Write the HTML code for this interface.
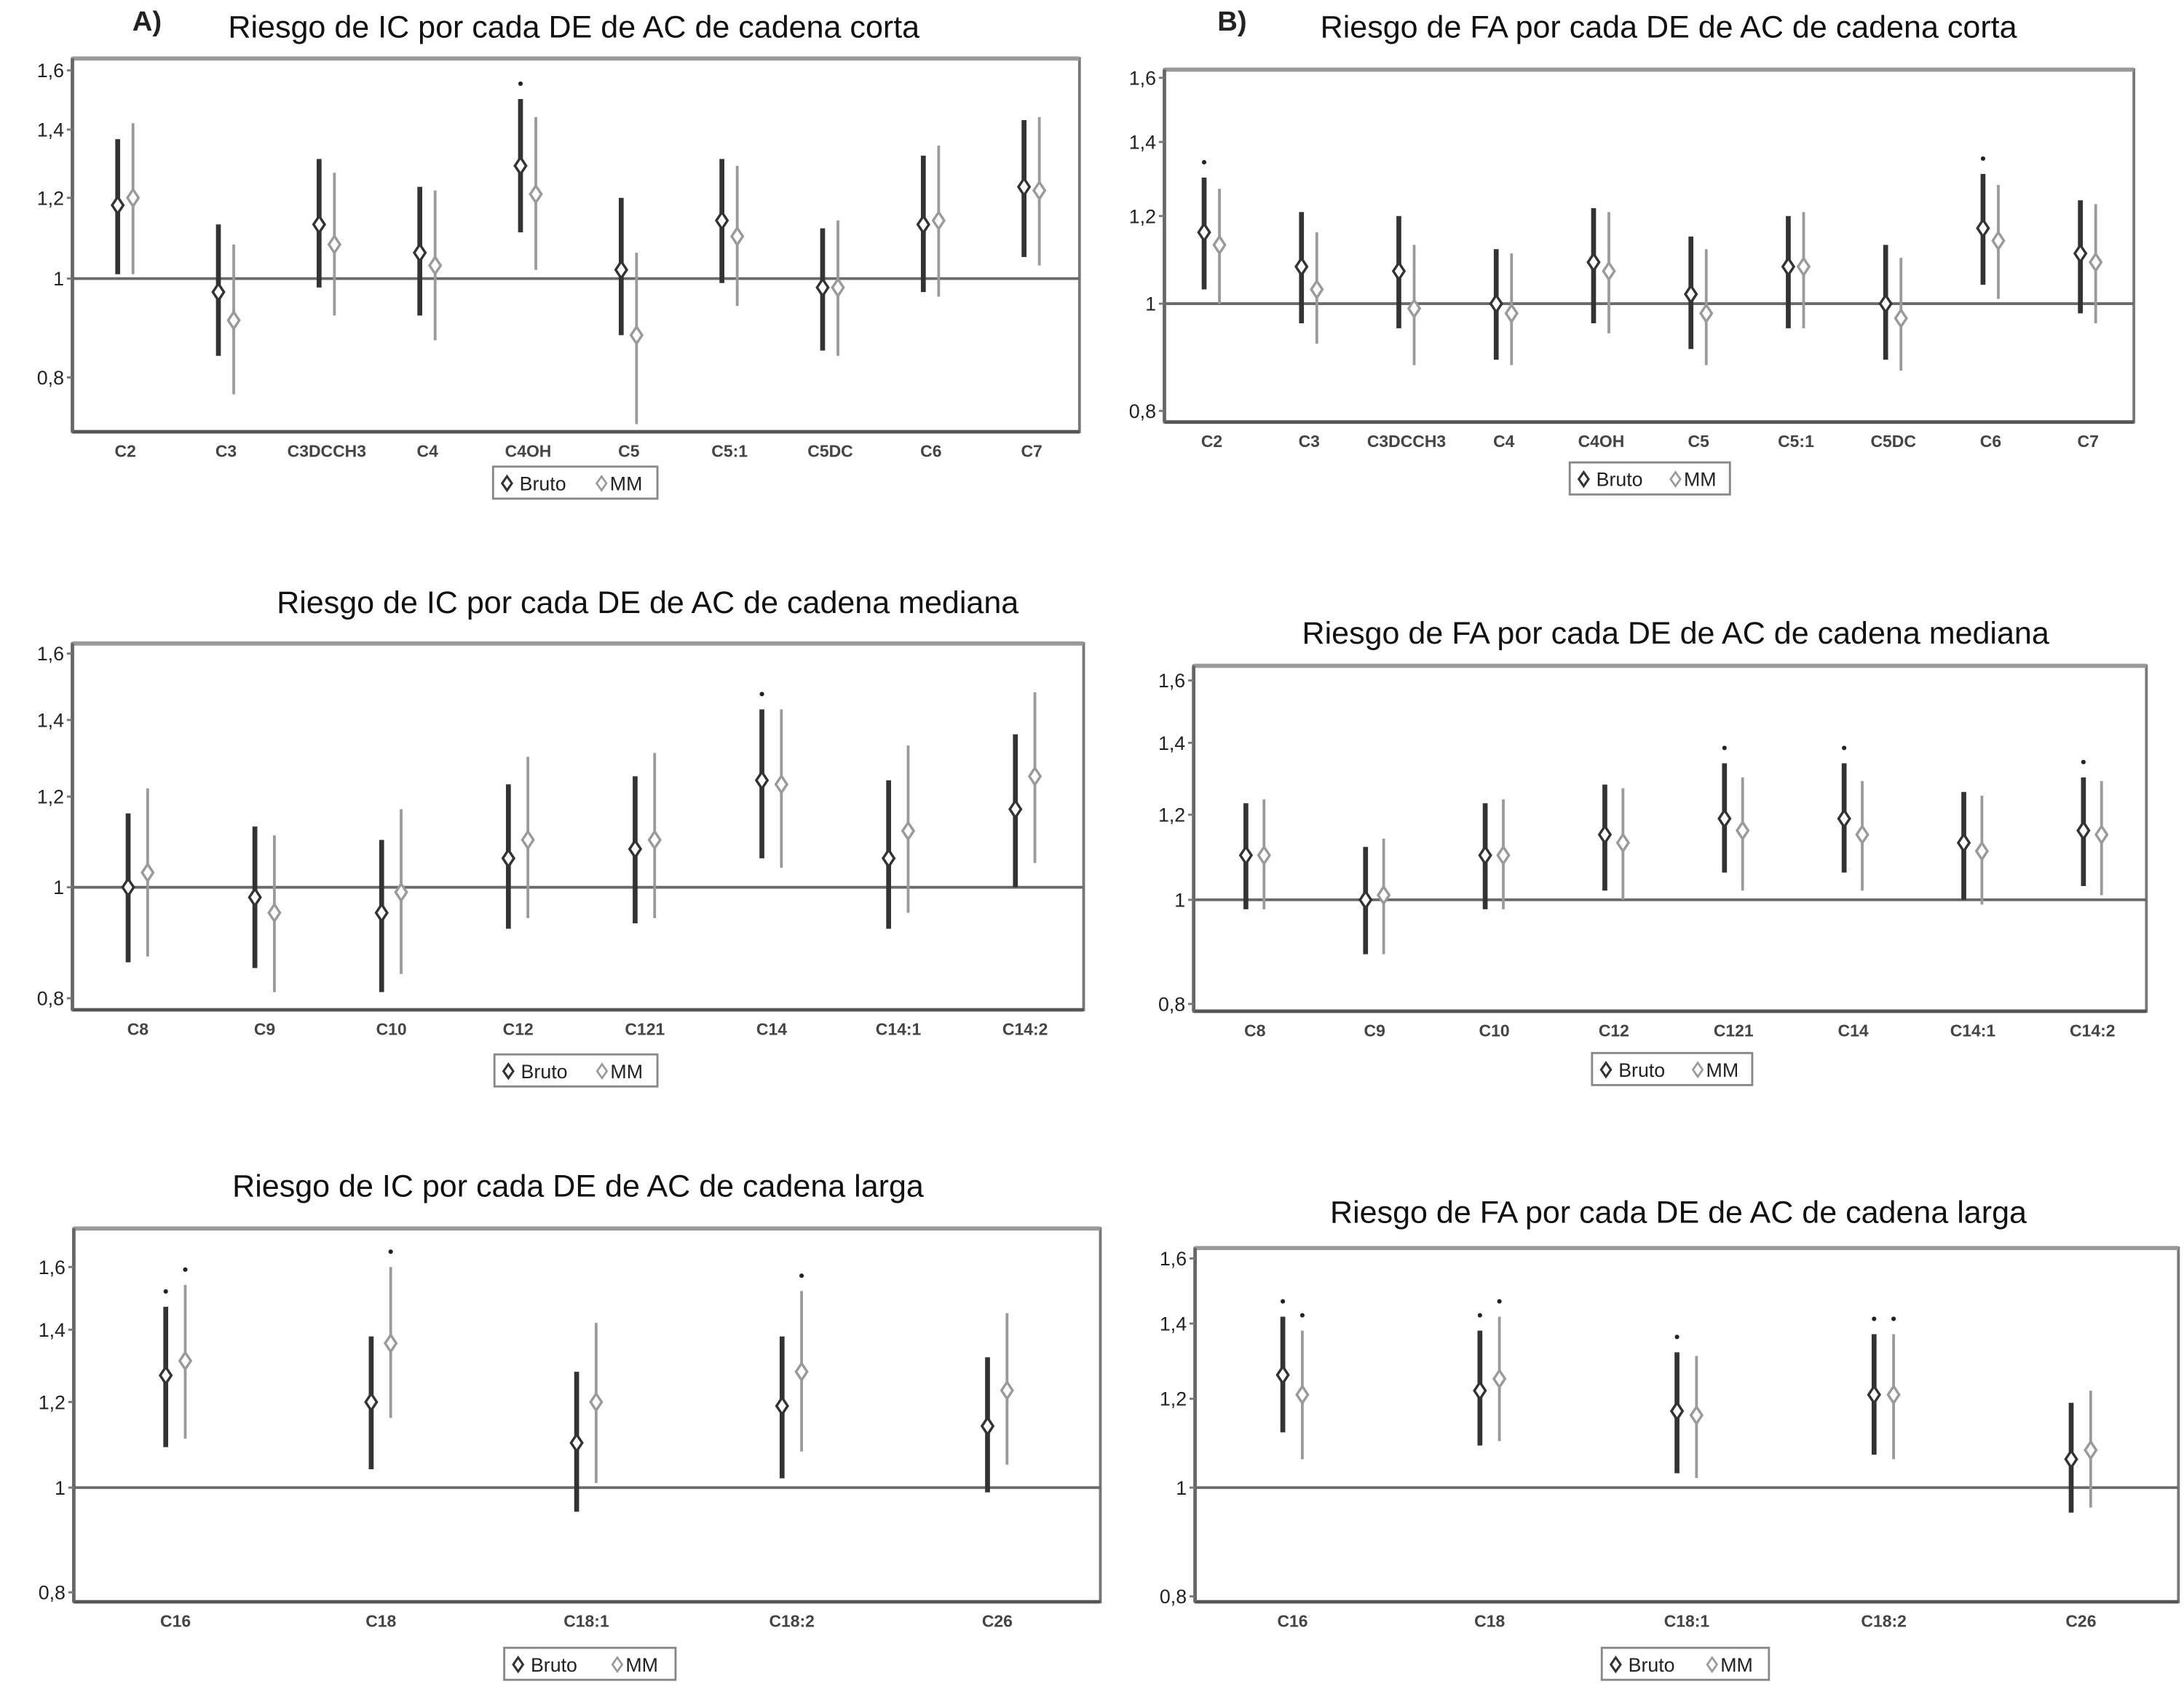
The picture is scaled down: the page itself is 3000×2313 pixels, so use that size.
<!DOCTYPE html>
<html><head><meta charset="utf-8">
<style>
html,body{margin:0;padding:0;background:#fff;}
svg{display:block;}
text{font-family:"Liberation Sans",Arial,sans-serif;}
</style></head>
<body>
<svg id="fig" width="3000" height="2313" viewBox="0 0 1568 1209" preserveAspectRatio="none" xmlns="http://www.w3.org/2000/svg">
<text x="95" y="22" font-size="20" font-weight="bold" fill="#222">A)</text>
<text x="874" y="22" font-size="20" font-weight="bold" fill="#222">B)</text>
</svg>
<script>
// ---- Data (each entry: [estimate, lower CI, upper CI]) ----
const catsA1 = ["C2","C3","C3DCCH3","C4","C4OH","C5","C5:1","C5DC","C6","C7"];
const brutoA1 = [[1.18,1.01,1.37],[0.97,0.84,1.13],[1.13,0.98,1.31],[1.06,0.92,1.23],[1.29,1.11,1.50],[1.02,0.88,1.20],[1.14,0.99,1.31],[0.98,0.85,1.12],[1.13,0.97,1.32],[1.23,1.05,1.43]];
const mmA1 = [[1.20,1.01,1.42],[0.91,0.77,1.08],[1.08,0.92,1.27],[1.03,0.87,1.22],[1.21,1.02,1.44],[0.88,0.72,1.06],[1.10,0.94,1.29],[0.98,0.84,1.14],[1.14,0.96,1.35],[1.22,1.03,1.44]];
const sigBrutoA1 = [0,0,0,0,1,0,0,0,0,0];
const sigMmA1 = [0,0,0,0,0,0,0,0,0,0];

const catsB1 = ["C2","C3","C3DCCH3","C4","C4OH","C5","C5:1","C5DC","C6","C7"];
const brutoB1 = [[1.16,1.03,1.30],[1.08,0.96,1.21],[1.07,0.95,1.20],[1.00,0.89,1.12],[1.09,0.96,1.22],[1.02,0.91,1.15],[1.08,0.95,1.20],[1.00,0.89,1.13],[1.17,1.04,1.31],[1.11,0.98,1.24]];
const mmB1 = [[1.13,1.00,1.27],[1.03,0.92,1.16],[0.99,0.88,1.13],[0.98,0.88,1.11],[1.07,0.94,1.21],[0.98,0.88,1.12],[1.08,0.95,1.21],[0.97,0.87,1.10],[1.14,1.01,1.28],[1.09,0.96,1.23]];
const sigBrutoB1 = [1,0,0,0,0,0,0,0,1,0];
const sigMmB1 = [0,0,0,0,0,0,0,0,0,0];

const catsA2 = ["C8","C9","C10","C12","C121","C14","C14:1","C14:2"];
const brutoA2 = [[1.00,0.86,1.16],[0.98,0.85,1.13],[0.95,0.81,1.10],[1.06,0.92,1.23],[1.08,0.93,1.25],[1.24,1.06,1.43],[1.06,0.92,1.24],[1.17,1.00,1.36]];
const mmA2 = [[1.03,0.87,1.22],[0.95,0.81,1.11],[0.99,0.84,1.17],[1.10,0.94,1.30],[1.10,0.94,1.31],[1.23,1.04,1.43],[1.12,0.95,1.33],[1.25,1.05,1.48]];
const sigBrutoA2 = [0,0,0,0,0,1,0,0];
const sigMmA2 = [0,0,0,0,0,0,0,0];

const catsB2 = ["C8","C9","C10","C12","C121","C14","C14:1","C14:2"];
const brutoB2 = [[1.10,0.98,1.23],[1.00,0.89,1.12],[1.10,0.98,1.23],[1.15,1.02,1.28],[1.19,1.06,1.34],[1.19,1.06,1.34],[1.13,1.00,1.26],[1.16,1.03,1.30]];
const mmB2 = [[1.10,0.98,1.24],[1.01,0.89,1.14],[1.10,0.98,1.24],[1.13,1.00,1.27],[1.16,1.02,1.30],[1.15,1.02,1.29],[1.11,0.99,1.25],[1.15,1.01,1.29]];
const sigBrutoB2 = [0,0,0,0,1,1,0,1];
const sigMmB2 = [0,0,0,0,0,0,0,0];

const catsA3 = ["C16","C18","C18:1","C18:2","C26"];
const brutoA3 = [[1.27,1.09,1.47],[1.20,1.04,1.38],[1.10,0.95,1.28],[1.19,1.02,1.38],[1.14,0.99,1.32]];
const mmA3 = [[1.31,1.11,1.54],[1.36,1.16,1.60],[1.20,1.01,1.42],[1.28,1.08,1.52],[1.23,1.05,1.45]];
const sigBrutoA3 = [1,0,0,0,0];
const sigMmA3 = [1,1,0,1,0];

const catsB3 = ["C16","C18","C18:1","C18:2","C26"];
const brutoB3 = [[1.26,1.12,1.42],[1.22,1.09,1.38],[1.17,1.03,1.32],[1.21,1.07,1.37],[1.06,0.95,1.19]];
const mmB3 = [[1.21,1.06,1.38],[1.25,1.10,1.42],[1.16,1.02,1.31],[1.21,1.06,1.37],[1.08,0.96,1.22]];
const sigBrutoB3 = [1,1,1,1,0];
const sigMmB3 = [1,1,0,1,0];

const yTicks = [0.8, 1, 1.2, 1.4, 1.6];
const yTickLabels = ["0,8","1","1,2","1,4","1,6"];

// ---- Drawing ----
const NS = "http://www.w3.org/2000/svg";
const svg = document.getElementById("fig");
function mk(tag, attrs, parent){
  const e = document.createElementNS(NS, tag);
  for (const k in attrs) e.setAttribute(k, attrs[k]);
  (parent||svg).appendChild(e);
  return e;
}

function drawPanel(id, L, title, cats, bruto, mm, sigB, sigM){
  const g = mk("g", {});
  
  
  const yScale = v => L.y1 - L.k * Math.log(v);
  const xScale = i => L.c0 + i * L.dx;

  const t = mk("text", {x: L.tx, y: L.ty, "font-size": 22.5, "text-anchor": "middle", fill: "#111"}, g);
  t.textContent = title;
  
  

  const box = mk("rect", {x: L.x0, y: L.top, width: L.x1 - L.x0, height: L.bot - L.top, fill: "none", stroke: "#777", "stroke-width": 2}, g);
  
  
  mk("line", {x1: L.x0, x2: L.x1, y1: L.top, y2: L.top, stroke: "#999", "stroke-width": 3}, g);
  mk("line", {x1: L.x0, x2: L.x1, y1: L.bot, y2: L.bot, stroke: "#555", "stroke-width": 2.5}, g);
  mk("line", {x1: L.x0, x2: L.x0, y1: L.top, y2: L.bot, stroke: "#666", "stroke-width": 2.5}, g);

  yTicks.forEach((v, i) => {
    const y = yScale(v);
    mk("line", {x1: L.x0 - 4, x2: L.x0, y1: y, y2: y, stroke: "#777", "stroke-width": 1.5}, g);
    const lb = mk("text", {x: L.x0 - 6, y: y + 5, "font-size": 14, "text-anchor": "end", fill: "#222"}, g);
    lb.textContent = yTickLabels[i];
    
    
  });

  const ref = mk("line", {x1: L.x0, x2: L.x1, y1: yScale(1), y2: yScale(1), stroke: "#6a6a6a", "stroke-width": 2}, g);
  
  

  cats.forEach((c, i) => {
    const cx = xScale(i);
    const lb = mk("text", {x: cx, y: L.bot + 18, "font-size": 12, "font-weight": "bold", "text-anchor": "middle", fill: "#444"}, g);
    lb.textContent = c;
    
    

    [[bruto, sigB, -L.off, "#333", 3.5, "bruto"], [mm, sigM, L.off, "#9a9a9a", 2, "mm"]].forEach(([arr, sig, o, col, w, nm]) => {
      const d = arr[i], x = cx + o;
      const ln = mk("line", {x1: x, x2: x, y1: yScale(d[1]), y2: yScale(d[2]), stroke: col, "stroke-width": w}, g);
      
      
      const y = yScale(d[0]);
      const dm = mk("polygon", {points: `${x},${y-6} ${x+4},${y} ${x},${y+6} ${x-4},${y}`, fill: "#fff", stroke: col, "stroke-width": 1.8}, g);
      
      
      if (sig[i]) {
        const s = mk("circle", {cx: x, cy: yScale(d[2]) - 11, r: 1.6, fill: "#222"}, g);
        
        
      }
    });
  });

  const lg = mk("g", {}, g);
  
  
  mk("rect", {x: L.lx, y: L.ly, width: L.lw, height: 23, fill: "#fff", stroke: "#888", "stroke-width": 1.5}, lg);
  const by = L.ly + 12;
  mk("polygon", {points: `${L.lx+10},${by-5} ${L.lx+13.5},${by} ${L.lx+10},${by+5} ${L.lx+6.5},${by}`, fill: "#fff", stroke: "#333", "stroke-width": 1.6}, lg);
  const t1 = mk("text", {x: L.lx + 19, y: by + 5, "font-size": 14, fill: "#222"}, lg);
  t1.textContent = "Bruto";
  
  
  const mx = L.lx + L.lw * 0.66;
  mk("polygon", {points: `${mx},${by-5} ${mx+3.5},${by} ${mx},${by+5} ${mx-3.5},${by}`, fill: "#fff", stroke: "#999", "stroke-width": 1.4}, lg);
  const t2 = mk("text", {x: mx + 6, y: by + 5, "font-size": 14, fill: "#222"}, lg);
  t2.textContent = "MM";
  
  
}

drawPanel("a1", {x0:52,x1:775,top:42,bot:310,y1:200,k:318,c0:90,dx:72.3,off:5.5,tx:412,ty:27,lx:354,ly:335,lw:118},
  "Riesgo de IC por cada DE de AC de cadena corta", catsA1, brutoA1, mmA1, sigBrutoA1, sigMmA1);
drawPanel("b1", {x0:836,x1:1532,top:50,bot:303,y1:218,k:345,c0:870,dx:69.9,off:5.5,tx:1198,ty:27,lx:1127,ly:332,lw:115},
  "Riesgo de FA por cada DE de AC de cadena corta", catsB1, brutoB1, mmB1, sigBrutoB1, sigMmB1);
drawPanel("a2", {x0:52,x1:778,top:462,bot:725,y1:637,k:357,c0:99,dx:91,off:7,tx:465,ty:440,lx:355,ly:757,lw:117},
  "Riesgo de IC por cada DE de AC de cadena mediana", catsA2, brutoA2, mmA2, sigBrutoA2, sigMmA2);
drawPanel("b2", {x0:857,x1:1541,top:478,bot:726,y1:646,k:335,c0:901,dx:85.9,off:6.5,tx:1203,ty:462,lx:1143,ly:756,lw:115},
  "Riesgo de FA por cada DE de AC de cadena mediana", catsB2, brutoB2, mmB2, sigBrutoB2, sigMmB2);
drawPanel("a3", {x0:53,x1:790,top:882,bot:1150,y1:1068,k:337,c0:126,dx:147.5,off:7,tx:415,ty:859,lx:362,ly:1183,lw:123},
  "Riesgo de IC por cada DE de AC de cadena larga", catsA3, brutoA3, mmA3, sigBrutoA3, sigMmA3);
drawPanel("b3", {x0:858,x1:1564,top:896,bot:1150,y1:1068,k:350,c0:928,dx:141.5,off:7,tx:1205,ty:878,lx:1150,ly:1183,lw:120},
  "Riesgo de FA por cada DE de AC de cadena larga", catsB3, brutoB3, mmB3, sigBrutoB3, sigMmB3);
</script>
</body></html>
